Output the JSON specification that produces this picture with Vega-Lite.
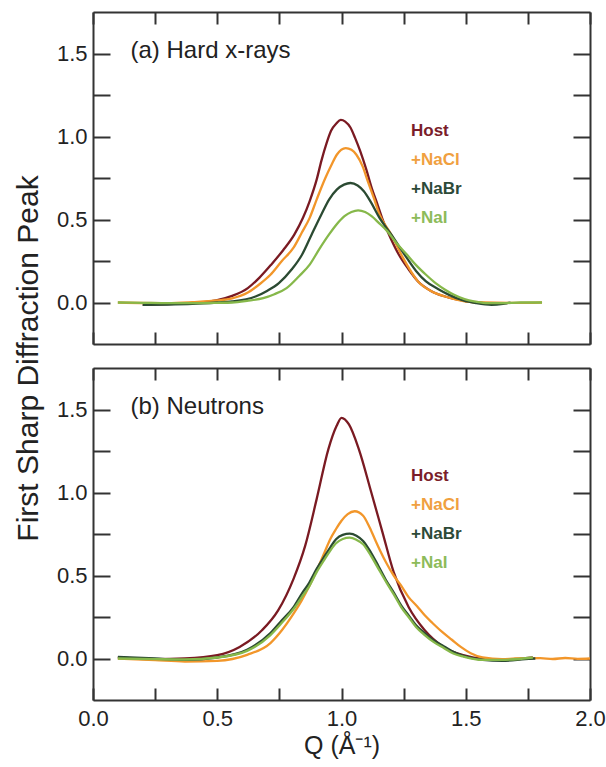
{
  "$schema": "https://vega.github.io/schema/vega-lite/v6.json",
  "autosize": {"type": "none"},
  "padding": {"left": 93, "top": 12, "right": 513, "bottom": 755},
  "background": "white",
  "config": {
    "font": "Liberation Sans",
    "view": {"stroke": null},
    "axis": {
      "domainColor": "#333", "domainWidth": 2, "tickColor": "#333", "tickWidth": 2,
      "labelColor": "#222", "labelFontSize": 22, "grid": false,
      "labelFlush": false, "labelBound": false, "labelOverlap": false,
      "titleColor": "#222", "titleFontWeight": "normal"
    },
    "legend": {"padding": 0},
    "line": {"strokeWidth": 2.3}
  },
  "datasets": {
    "fsdp": [
      {"p":"a","s":"Host","q":0.2,"v":-0.014},{"p":"a","s":"Host","q":0.3,"v":-0.01},{"p":"a","s":"Host","q":0.4,"v":-0.004},{"p":"a","s":"Host","q":0.5,"v":0.014},{"p":"a","s":"Host","q":0.56,"v":0.04},{"p":"a","s":"Host","q":0.623,"v":0.087},{"p":"a","s":"Host","q":0.67,"v":0.15},{"p":"a","s":"Host","q":0.717,"v":0.228},{"p":"a","s":"Host","q":0.765,"v":0.315},{"p":"a","s":"Host","q":0.81,"v":0.409},{"p":"a","s":"Host","q":0.845,"v":0.51},{"p":"a","s":"Host","q":0.872,"v":0.611},{"p":"a","s":"Host","q":0.9,"v":0.74},{"p":"a","s":"Host","q":0.919,"v":0.853},{"p":"a","s":"Host","q":0.94,"v":0.96},{"p":"a","s":"Host","q":0.958,"v":1.034},{"p":"a","s":"Host","q":0.98,"v":1.08},{"p":"a","s":"Host","q":0.997,"v":1.1},{"p":"a","s":"Host","q":1.015,"v":1.09},{"p":"a","s":"Host","q":1.036,"v":1.054},{"p":"a","s":"Host","q":1.055,"v":0.99},{"p":"a","s":"Host","q":1.075,"v":0.913},{"p":"a","s":"Host","q":1.1,"v":0.8},{"p":"a","s":"Host","q":1.121,"v":0.692},{"p":"a","s":"Host","q":1.145,"v":0.59},{"p":"a","s":"Host","q":1.168,"v":0.49},{"p":"a","s":"Host","q":1.2,"v":0.38},{"p":"a","s":"Host","q":1.231,"v":0.288},{"p":"a","s":"Host","q":1.27,"v":0.2},{"p":"a","s":"Host","q":1.308,"v":0.127},{"p":"a","s":"Host","q":1.36,"v":0.07},{"p":"a","s":"Host","q":1.417,"v":0.036},{"p":"a","s":"Host","q":1.5,"v":0.008},{"p":"a","s":"Host","q":1.573,"v":-0.004},{"p":"a","s":"Host","q":1.667,"v":-0.004},

      {"p":"a","s":"+NaCl","q":0.1,"v":0},{"p":"a","s":"+NaCl","q":0.3,"v":-0.004},{"p":"a","s":"+NaCl","q":0.4,"v":0.002},{"p":"a","s":"+NaCl","q":0.5,"v":0.012},{"p":"a","s":"+NaCl","q":0.56,"v":0.025},{"p":"a","s":"+NaCl","q":0.623,"v":0.06},{"p":"a","s":"+NaCl","q":0.67,"v":0.11},{"p":"a","s":"+NaCl","q":0.714,"v":0.167},{"p":"a","s":"+NaCl","q":0.76,"v":0.25},{"p":"a","s":"+NaCl","q":0.807,"v":0.33},{"p":"a","s":"+NaCl","q":0.84,"v":0.42},{"p":"a","s":"+NaCl","q":0.872,"v":0.51},{"p":"a","s":"+NaCl","q":0.9,"v":0.62},{"p":"a","s":"+NaCl","q":0.935,"v":0.75},{"p":"a","s":"+NaCl","q":0.96,"v":0.83},{"p":"a","s":"+NaCl","q":0.981,"v":0.89},{"p":"a","s":"+NaCl","q":1.017,"v":0.93},{"p":"a","s":"+NaCl","q":1.04,"v":0.92},{"p":"a","s":"+NaCl","q":1.06,"v":0.89},{"p":"a","s":"+NaCl","q":1.085,"v":0.82},{"p":"a","s":"+NaCl","q":1.106,"v":0.73},{"p":"a","s":"+NaCl","q":1.13,"v":0.63},{"p":"a","s":"+NaCl","q":1.153,"v":0.53},{"p":"a","s":"+NaCl","q":1.2,"v":0.41},{"p":"a","s":"+NaCl","q":1.247,"v":0.27},{"p":"a","s":"+NaCl","q":1.308,"v":0.127},{"p":"a","s":"+NaCl","q":1.36,"v":0.07},{"p":"a","s":"+NaCl","q":1.417,"v":0.036},{"p":"a","s":"+NaCl","q":1.5,"v":0.006},{"p":"a","s":"+NaCl","q":1.573,"v":0},{"p":"a","s":"+NaCl","q":1.7,"v":-0.002},{"p":"a","s":"+NaCl","q":1.807,"v":0},

      {"p":"a","s":"+NaBr","q":0.2,"v":-0.014},{"p":"a","s":"+NaBr","q":0.3,"v":-0.012},{"p":"a","s":"+NaBr","q":0.4,"v":-0.008},{"p":"a","s":"+NaBr","q":0.5,"v":0},{"p":"a","s":"+NaBr","q":0.56,"v":0.006},{"p":"a","s":"+NaBr","q":0.654,"v":0.036},{"p":"a","s":"+NaBr","q":0.7,"v":0.07},{"p":"a","s":"+NaBr","q":0.748,"v":0.117},{"p":"a","s":"+NaBr","q":0.8,"v":0.2},{"p":"a","s":"+NaBr","q":0.841,"v":0.288},{"p":"a","s":"+NaBr","q":0.88,"v":0.41},{"p":"a","s":"+NaBr","q":0.919,"v":0.53},{"p":"a","s":"+NaBr","q":0.95,"v":0.62},{"p":"a","s":"+NaBr","q":0.981,"v":0.68},{"p":"a","s":"+NaBr","q":1.01,"v":0.71},{"p":"a","s":"+NaBr","q":1.036,"v":0.72},{"p":"a","s":"+NaBr","q":1.065,"v":0.705},{"p":"a","s":"+NaBr","q":1.09,"v":0.67},{"p":"a","s":"+NaBr","q":1.12,"v":0.6},{"p":"a","s":"+NaBr","q":1.153,"v":0.51},{"p":"a","s":"+NaBr","q":1.2,"v":0.41},{"p":"a","s":"+NaBr","q":1.262,"v":0.27},{"p":"a","s":"+NaBr","q":1.3,"v":0.19},{"p":"a","s":"+NaBr","q":1.34,"v":0.127},{"p":"a","s":"+NaBr","q":1.39,"v":0.08},{"p":"a","s":"+NaBr","q":1.433,"v":0.046},{"p":"a","s":"+NaBr","q":1.49,"v":0.012},{"p":"a","s":"+NaBr","q":1.542,"v":-0.004},{"p":"a","s":"+NaBr","q":1.604,"v":-0.014},{"p":"a","s":"+NaBr","q":1.65,"v":-0.008},{"p":"a","s":"+NaBr","q":1.68,"v":0},

      {"p":"a","s":"+NaI","q":0.1,"v":0},{"p":"a","s":"+NaI","q":0.2,"v":-0.002},{"p":"a","s":"+NaI","q":0.3,"v":-0.004},{"p":"a","s":"+NaI","q":0.4,"v":-0.004},{"p":"a","s":"+NaI","q":0.5,"v":-0.002},{"p":"a","s":"+NaI","q":0.56,"v":0},{"p":"a","s":"+NaI","q":0.62,"v":0.01},{"p":"a","s":"+NaI","q":0.685,"v":0.026},{"p":"a","s":"+NaI","q":0.73,"v":0.05},{"p":"a","s":"+NaI","q":0.779,"v":0.087},{"p":"a","s":"+NaI","q":0.83,"v":0.16},{"p":"a","s":"+NaI","q":0.872,"v":0.228},{"p":"a","s":"+NaI","q":0.91,"v":0.32},{"p":"a","s":"+NaI","q":0.95,"v":0.41},{"p":"a","s":"+NaI","q":0.98,"v":0.47},{"p":"a","s":"+NaI","q":1.012,"v":0.52},{"p":"a","s":"+NaI","q":1.04,"v":0.545},{"p":"a","s":"+NaI","q":1.067,"v":0.555},{"p":"a","s":"+NaI","q":1.095,"v":0.545},{"p":"a","s":"+NaI","q":1.121,"v":0.52},{"p":"a","s":"+NaI","q":1.15,"v":0.48},{"p":"a","s":"+NaI","q":1.184,"v":0.43},{"p":"a","s":"+NaI","q":1.22,"v":0.36},{"p":"a","s":"+NaI","q":1.262,"v":0.29},{"p":"a","s":"+NaI","q":1.3,"v":0.225},{"p":"a","s":"+NaI","q":1.34,"v":0.167},{"p":"a","s":"+NaI","q":1.38,"v":0.115},{"p":"a","s":"+NaI","q":1.417,"v":0.077},{"p":"a","s":"+NaI","q":1.455,"v":0.045},{"p":"a","s":"+NaI","q":1.495,"v":0.02},{"p":"a","s":"+NaI","q":1.54,"v":0.005},{"p":"a","s":"+NaI","q":1.589,"v":-0.004},{"p":"a","s":"+NaI","q":1.65,"v":-0.004},{"p":"a","s":"+NaI","q":1.72,"v":0},{"p":"a","s":"+NaI","q":1.807,"v":0},

      {"p":"b","s":"Host","q":0.1,"v":0.006},{"p":"b","s":"Host","q":0.25,"v":-0.004},{"p":"b","s":"Host","q":0.37,"v":0},{"p":"b","s":"Host","q":0.5,"v":0.02},{"p":"b","s":"Host","q":0.59,"v":0.07},{"p":"b","s":"Host","q":0.68,"v":0.17},{"p":"b","s":"Host","q":0.745,"v":0.29},{"p":"b","s":"Host","q":0.807,"v":0.48},{"p":"b","s":"Host","q":0.854,"v":0.68},{"p":"b","s":"Host","q":0.9,"v":0.96},{"p":"b","s":"Host","q":0.947,"v":1.26},{"p":"b","s":"Host","q":0.98,"v":1.4},{"p":"b","s":"Host","q":1.0,"v":1.45},{"p":"b","s":"Host","q":1.03,"v":1.41},{"p":"b","s":"Host","q":1.07,"v":1.26},{"p":"b","s":"Host","q":1.12,"v":1.0},{"p":"b","s":"Host","q":1.165,"v":0.76},{"p":"b","s":"Host","q":1.21,"v":0.52},{"p":"b","s":"Host","q":1.27,"v":0.31},{"p":"b","s":"Host","q":1.335,"v":0.17},{"p":"b","s":"Host","q":1.41,"v":0.07},{"p":"b","s":"Host","q":1.49,"v":0.02},{"p":"b","s":"Host","q":1.58,"v":-0.004},{"p":"b","s":"Host","q":1.646,"v":-0.008},{"p":"b","s":"Host","q":1.77,"v":0.006},

      {"p":"b","s":"+NaCl","q":0.1,"v":0},{"p":"b","s":"+NaCl","q":0.25,"v":-0.01},{"p":"b","s":"+NaCl","q":0.37,"v":-0.018},{"p":"b","s":"+NaCl","q":0.5,"v":-0.014},{"p":"b","s":"+NaCl","q":0.62,"v":0.022},{"p":"b","s":"+NaCl","q":0.714,"v":0.093},{"p":"b","s":"+NaCl","q":0.76,"v":0.17},{"p":"b","s":"+NaCl","q":0.807,"v":0.27},{"p":"b","s":"+NaCl","q":0.84,"v":0.35},{"p":"b","s":"+NaCl","q":0.87,"v":0.435},{"p":"b","s":"+NaCl","q":0.9,"v":0.53},{"p":"b","s":"+NaCl","q":0.932,"v":0.64},{"p":"b","s":"+NaCl","q":0.955,"v":0.72},{"p":"b","s":"+NaCl","q":0.978,"v":0.78},{"p":"b","s":"+NaCl","q":1.0,"v":0.83},{"p":"b","s":"+NaCl","q":1.025,"v":0.87},{"p":"b","s":"+NaCl","q":1.053,"v":0.887},{"p":"b","s":"+NaCl","q":1.087,"v":0.86},{"p":"b","s":"+NaCl","q":1.11,"v":0.8},{"p":"b","s":"+NaCl","q":1.134,"v":0.72},{"p":"b","s":"+NaCl","q":1.157,"v":0.645},{"p":"b","s":"+NaCl","q":1.18,"v":0.577},{"p":"b","s":"+NaCl","q":1.21,"v":0.5},{"p":"b","s":"+NaCl","q":1.242,"v":0.435},{"p":"b","s":"+NaCl","q":1.27,"v":0.37},{"p":"b","s":"+NaCl","q":1.304,"v":0.315},{"p":"b","s":"+NaCl","q":1.335,"v":0.26},{"p":"b","s":"+NaCl","q":1.366,"v":0.214},{"p":"b","s":"+NaCl","q":1.405,"v":0.16},{"p":"b","s":"+NaCl","q":1.444,"v":0.113},{"p":"b","s":"+NaCl","q":1.48,"v":0.07},{"p":"b","s":"+NaCl","q":1.52,"v":0.032},{"p":"b","s":"+NaCl","q":1.568,"v":0.006},{"p":"b","s":"+NaCl","q":1.646,"v":-0.004},{"p":"b","s":"+NaCl","q":1.7,"v":0},{"p":"b","s":"+NaCl","q":1.8,"v":0.002},{"p":"b","s":"+NaCl","q":1.85,"v":-0.003},{"p":"b","s":"+NaCl","q":1.9,"v":0.003},{"p":"b","s":"+NaCl","q":1.95,"v":-0.002},{"p":"b","s":"+NaCl","q":2.0,"v":0},

      {"p":"b","s":"+NaBr","q":0.1,"v":0.01},{"p":"b","s":"+NaBr","q":0.25,"v":0},{"p":"b","s":"+NaBr","q":0.37,"v":-0.008},{"p":"b","s":"+NaBr","q":0.5,"v":0.006},{"p":"b","s":"+NaBr","q":0.62,"v":0.052},{"p":"b","s":"+NaBr","q":0.714,"v":0.153},{"p":"b","s":"+NaBr","q":0.76,"v":0.23},{"p":"b","s":"+NaBr","q":0.807,"v":0.31},{"p":"b","s":"+NaBr","q":0.84,"v":0.39},{"p":"b","s":"+NaBr","q":0.87,"v":0.456},{"p":"b","s":"+NaBr","q":0.9,"v":0.54},{"p":"b","s":"+NaBr","q":0.932,"v":0.617},{"p":"b","s":"+NaBr","q":0.955,"v":0.67},{"p":"b","s":"+NaBr","q":0.978,"v":0.718},{"p":"b","s":"+NaBr","q":1.005,"v":0.745},{"p":"b","s":"+NaBr","q":1.033,"v":0.752},{"p":"b","s":"+NaBr","q":1.06,"v":0.74},{"p":"b","s":"+NaBr","q":1.087,"v":0.708},{"p":"b","s":"+NaBr","q":1.118,"v":0.64},{"p":"b","s":"+NaBr","q":1.149,"v":0.556},{"p":"b","s":"+NaBr","q":1.18,"v":0.47},{"p":"b","s":"+NaBr","q":1.211,"v":0.395},{"p":"b","s":"+NaBr","q":1.24,"v":0.32},{"p":"b","s":"+NaBr","q":1.273,"v":0.254},{"p":"b","s":"+NaBr","q":1.3,"v":0.2},{"p":"b","s":"+NaBr","q":1.335,"v":0.153},{"p":"b","s":"+NaBr","q":1.37,"v":0.11},{"p":"b","s":"+NaBr","q":1.413,"v":0.073},{"p":"b","s":"+NaBr","q":1.45,"v":0.04},{"p":"b","s":"+NaBr","q":1.49,"v":0.016},{"p":"b","s":"+NaBr","q":1.568,"v":-0.008},{"p":"b","s":"+NaBr","q":1.646,"v":-0.014},{"p":"b","s":"+NaBr","q":1.74,"v":-0.004},{"p":"b","s":"+NaBr","q":1.78,"v":0},

      {"p":"b","s":"+NaI","q":0.1,"v":0},{"p":"b","s":"+NaI","q":0.25,"v":-0.004},{"p":"b","s":"+NaI","q":0.37,"v":-0.006},{"p":"b","s":"+NaI","q":0.5,"v":0.006},{"p":"b","s":"+NaI","q":0.62,"v":0.046},{"p":"b","s":"+NaI","q":0.714,"v":0.141},{"p":"b","s":"+NaI","q":0.76,"v":0.215},{"p":"b","s":"+NaI","q":0.807,"v":0.298},{"p":"b","s":"+NaI","q":0.84,"v":0.37},{"p":"b","s":"+NaI","q":0.87,"v":0.435},{"p":"b","s":"+NaI","q":0.9,"v":0.52},{"p":"b","s":"+NaI","q":0.932,"v":0.597},{"p":"b","s":"+NaI","q":0.955,"v":0.65},{"p":"b","s":"+NaI","q":0.978,"v":0.694},{"p":"b","s":"+NaI","q":1.005,"v":0.72},{"p":"b","s":"+NaI","q":1.033,"v":0.728},{"p":"b","s":"+NaI","q":1.06,"v":0.715},{"p":"b","s":"+NaI","q":1.087,"v":0.688},{"p":"b","s":"+NaI","q":1.118,"v":0.62},{"p":"b","s":"+NaI","q":1.149,"v":0.54},{"p":"b","s":"+NaI","q":1.18,"v":0.46},{"p":"b","s":"+NaI","q":1.211,"v":0.385},{"p":"b","s":"+NaI","q":1.24,"v":0.31},{"p":"b","s":"+NaI","q":1.273,"v":0.244},{"p":"b","s":"+NaI","q":1.3,"v":0.19},{"p":"b","s":"+NaI","q":1.335,"v":0.141},{"p":"b","s":"+NaI","q":1.37,"v":0.1},{"p":"b","s":"+NaI","q":1.413,"v":0.062},{"p":"b","s":"+NaI","q":1.45,"v":0.03},{"p":"b","s":"+NaI","q":1.49,"v":0.012},{"p":"b","s":"+NaI","q":1.568,"v":-0.008},{"p":"b","s":"+NaI","q":1.646,"v":-0.008},{"p":"b","s":"+NaI","q":1.77,"v":0.006}
    ]
  },
  "bounds": "flush",
  "spacing": 24,
  "resolve": {"legend": {"color": "independent"}},
  "vconcat": [
    {
      "width": 497, "height": 332,
      "data": {"name": "fsdp"},
      "transform": [{"filter": "datum.p == 'a'"}],
      "layer": [
        {
          "mark": {"type": "line", "strokeWidth": 2.3, "interpolate": "monotone"},
          "encoding": {
            "x": {"field": "q", "type": "quantitative", "scale": {"domain": [0, 2], "nice": false},
              "axis": {"orient": "bottom", "values": [0,0.25,0.5,0.75,1,1.25,1.5,1.75,2], "labels": false, "tickSize": -12, "title": null}},
            "y": {"field": "v", "type": "quantitative", "scale": {"domain": [-0.25, 1.75], "nice": false, "zero": false},
              "axis": {"orient": "left", "values": [0,0.25,0.5,0.75,1,1.25,1.5], "tickSize": -17, "labelPadding": 23,
                "labelExpr": "datum.value % 0.5 == 0 ? format(datum.value, '.1f') : ''",
                "title": "First Sharp Diffraction Peak", "titleFontSize": 30, "titleX": -65, "titleY": 346,
                "titleAngle": 270, "titleAlign": "center", "titleBaseline": "middle"}},
            "color": {"field": "s", "type": "nominal",
              "scale": {"domain": ["Host", "+NaCl", "+NaBr", "+NaI"], "range": ["#7a1a22", "#f2962a", "#2b4a32", "#86b84a"]},
              "legend": {"orient": "none", "legendX": 301, "legendY": 110, "title": null, "padding": 0, "symbolSize": 0, "symbolOpacity": 0, "symbolStrokeWidth": 0,
                "labelOffset": 0, "labelFontSize": 17, "labelFontWeight": "bold", "rowPadding": 11,
                "labelColor": {"expr": "datum.value === 'Host' ? '#7a1d2a' : datum.value === '+NaCl' ? '#f0a040' : datum.value === '+NaBr' ? '#2d4a38' : '#8dbb5a'"}}}
          }
        },
        {
          "mark": {"type": "line", "opacity": 0},
          "encoding": {
            "x": {"field": "q", "type": "quantitative",
              "axis": {"orient": "top", "values": [0,0.25,0.5,0.75,1,1.25,1.5,1.75,2], "labels": false, "tickSize": -12,
                "title": "(a) Hard x-rays", "titleFontSize": 24, "titleX": 37, "titleY": 38, "titleAlign": "left", "titleBaseline": "middle", "titleAngle": 0}},
            "y": {"field": "v", "type": "quantitative",
              "axis": {"orient": "right", "values": [0,0.25,0.5,0.75,1,1.25,1.5], "labels": false, "tickSize": -17, "title": null}},
            "detail": {"field": "s"}
          }
        }
      ],
      "resolve": {"axis": {"x": "independent", "y": "independent"}}
    },
    {
      "width": 497, "height": 332,
      "data": {"name": "fsdp"},
      "transform": [{"filter": "datum.p == 'b'"}],
      "layer": [
        {
          "mark": {"type": "line", "strokeWidth": 2.3, "interpolate": "monotone"},
          "encoding": {
            "x": {"field": "q", "type": "quantitative", "scale": {"domain": [0, 2], "nice": false},
              "axis": {"orient": "bottom", "values": [0,0.25,0.5,0.75,1,1.25,1.5,1.75,2], "tickSize": -12, "labelPadding": 20,
                "labelExpr": "datum.value % 0.5 == 0 ? format(datum.value, '.1f') : ''",
                "title": "Q (Å⁻¹)", "titleFontSize": 25, "titleY": 45, "titleBaseline": "middle"}},
            "y": {"field": "v", "type": "quantitative", "scale": {"domain": [-0.25, 1.75], "nice": false, "zero": false},
              "axis": {"orient": "left", "values": [0,0.25,0.5,0.75,1,1.25,1.5], "tickSize": -17, "labelPadding": 23,
                "labelExpr": "datum.value % 0.5 == 0 ? format(datum.value, '.1f') : ''", "title": null}},
            "color": {"field": "s", "type": "nominal",
              "scale": {"domain": ["Host", "+NaCl", "+NaBr", "+NaI"], "range": ["#7a1a22", "#f2962a", "#2b4a32", "#86b84a"]},
              "legend": {"orient": "none", "legendX": 301, "legendY": 99, "title": null, "padding": 0, "symbolSize": 0, "symbolOpacity": 0, "symbolStrokeWidth": 0,
                "labelOffset": 0, "labelFontSize": 17, "labelFontWeight": "bold", "rowPadding": 11,
                "labelColor": {"expr": "datum.value === 'Host' ? '#7a1d2a' : datum.value === '+NaCl' ? '#f0a040' : datum.value === '+NaBr' ? '#2d4a38' : '#8dbb5a'"}}}
          }
        },
        {
          "mark": {"type": "line", "opacity": 0},
          "encoding": {
            "x": {"field": "q", "type": "quantitative",
              "axis": {"orient": "top", "values": [0,0.25,0.5,0.75,1,1.25,1.5,1.75,2], "labels": false, "tickSize": -12,
                "title": "(b) Neutrons", "titleFontSize": 24, "titleX": 37, "titleY": 38, "titleAlign": "left", "titleBaseline": "middle", "titleAngle": 0}},
            "y": {"field": "v", "type": "quantitative",
              "axis": {"orient": "right", "values": [0,0.25,0.5,0.75,1,1.25,1.5], "labels": false, "tickSize": -17, "title": null}},
            "detail": {"field": "s"}
          }
        }
      ],
      "resolve": {"axis": {"x": "independent", "y": "independent"}}
    }
  ]
}
